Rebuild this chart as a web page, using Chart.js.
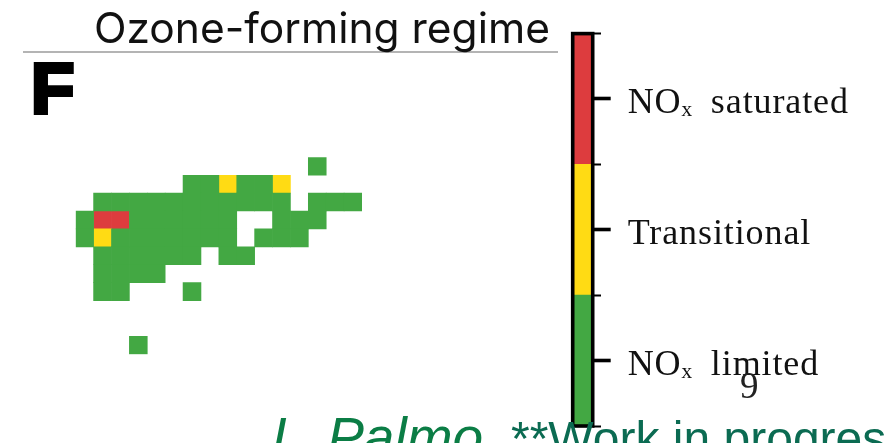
<!DOCTYPE html>
<html>
<head>
<meta charset="utf-8">
<script src="https://cdn.jsdelivr.net/npm/chart.js@4"></script>
<style>
  html, body { margin: 0; background: #fff; }
  body { position: relative; width: 884px; height: 443px; overflow: hidden; font-family: "Liberation Sans", sans-serif; }
  canvas, .txt, #rule { position: absolute; }
  #map { left: 70px; top: 150px; }
  #bar { left: 550px; top: 20px; }
  #rule { left: 23px; top: 51px; width: 535px; height: 2px; background: #b4b4b4; }
  .txt { white-space: nowrap; }
  #title { left: 94px; top: 2px; font: 42.5px Inter, sans-serif; color: #111; }
  #panel { left: 31px; top: 48px; font: bold 71px "Liberation Sans", sans-serif; color: #000; -webkit-text-stroke: 4px #000; }
  #page { left: 740px; top: 364px; font: 37px "Liberation Serif", serif; color: #222; }
  #author { left: 272px; top: 410px; font: italic 55px/1 "Liberation Sans", sans-serif; word-spacing: -6px; color: #0b7d45; }
  #status { left: 511px; top: 415px; font: 48px/1 "Liberation Sans", sans-serif; color: #0b6b52; }
</style>
</head>
<body>
<canvas id="map" width="300" height="210"></canvas>
<canvas id="bar" width="334" height="423"></canvas>
<div id="rule"></div>
<div class="txt" id="title">Ozone-forming regime</div>
<div class="txt" id="panel">F</div>
<div class="txt" id="page">9</div>
<div class="txt" id="author">L. Palmo,</div>
<div class="txt" id="status">**Work in progress</div>
<script>
// regime names, bottom to top on the colorbar
const regimes = ['NOₓ \u2009limited', 'Transitional', 'NOₓ \u2009saturated'];
const regimeColors = ['#43a843', '#ffdb14', '#dd3c3e'];

const columns = ['0', '1', '2', '3', '4', '5', '6', '7', '8', '9', '10', '11', '12', '13', '14', '15'];

// one row per grid row, top to bottom. 0 = no data, 1/2/3 = index into regimes + 1
const regimeRows = [
  [0, 0, 0, 0, 0, 0, 0, 0, 0, 0, 0, 0, 0, 1, 0, 0],
  [0, 0, 0, 0, 0, 0, 1, 1, 2, 1, 1, 2, 0, 0, 0, 0],
  [0, 1, 1, 1, 1, 1, 1, 1, 1, 1, 1, 1, 0, 1, 1, 1],
  [1, 3, 3, 1, 1, 1, 1, 1, 1, 0, 0, 1, 1, 1, 0, 0],
  [1, 2, 1, 1, 1, 1, 1, 1, 1, 0, 1, 1, 1, 0, 0, 0],
  [0, 1, 1, 1, 1, 1, 1, 0, 1, 1, 0, 0, 0, 0, 0, 0],
  [0, 1, 1, 1, 1, 0, 0, 0, 0, 0, 0, 0, 0, 0, 0, 0],
  [0, 1, 1, 0, 0, 0, 1, 0, 0, 0, 0, 0, 0, 0, 0, 0],
  [0, 0, 0, 0, 0, 0, 0, 0, 0, 0, 0, 0, 0, 0, 0, 0],
  [0, 0, 0, 0, 0, 0, 0, 0, 0, 0, 0, 0, 0, 0, 0, 0],
  [0, 0, 0, 1, 0, 0, 0, 0, 0, 0, 0, 0, 0, 0, 0, 0]
];

// each regime becomes a dataset of floating bars, one bar per cell
function cellsFor(code) {
  const cells = [];
  regimeRows.forEach((row, r) => {
    row.forEach((v, c) => {
      if (v === code) cells.push({ x: columns[c], y: [r, r + 1] });
    });
  });
  return cells;
}

new Chart(document.getElementById('map'), {
  type: 'bar',
  data: {
    labels: columns,
    datasets: regimes.map((name, i) => ({
      label: name,
      data: cellsFor(i + 1),
      backgroundColor: regimeColors[i],
      grouped: false,
      barPercentage: 1,
      categoryPercentage: 1
    }))
  },
  options: {
    responsive: false,
    animation: false,
    layout: { padding: { left: 5.7, top: 7.3, right: 8, bottom: 5.7 } },
    plugins: { legend: { display: false }, tooltip: { enabled: false } },
    scales: {
      x: { display: false },
      y: { display: false, reverse: true, min: 0, max: regimeRows.length }
    }
  }
});

// black box round the colorbar
const frame = {
  id: 'frame',
  afterDatasetsDraw(chart) {
    const { ctx, chartArea: a } = chart;
    ctx.save();
    ctx.strokeStyle = '#000';
    ctx.lineWidth = 3.6;
    ctx.strokeRect(a.left, a.top, a.right - a.left, a.bottom - a.top);
    ctx.restore();
  },
  beforeDraw(chart) {
    chart.ctx.letterSpacing = '0.9px';
  }
};

new Chart(document.getElementById('bar'), {
  type: 'bar',
  data: {
    labels: [''],
    datasets: regimes.map((name, i) => ({
      label: name,
      data: [1],
      backgroundColor: regimeColors[i],
      barPercentage: 1,
      categoryPercentage: 1
    }))
  },
  options: {
    responsive: false,
    animation: false,
    layout: { padding: { left: 22.7, top: 13.6, right: 0, bottom: 17 } },
    plugins: { legend: { display: false }, tooltip: { enabled: false } },
    scales: {
      x: { stacked: true, display: false },
      y: {
        stacked: true,
        position: 'right',
        min: 0,
        max: regimes.length,
        afterFit(s) { s.width = 291.3; s.paddingTop = 0; s.paddingBottom = 0; },
        afterBuildTicks(s) {
          s.ticks = [0, 0.5, 1, 1.5, 2, 2.5, 3].map(v => ({ value: v }));
        },
        border: { display: false },
        grid: {
          drawOnChartArea: false,
          tickLength: 18,
          tickColor: '#000',
          tickWidth: c => (c.tick.value % 1 ? 3.6 : 2),
          tickBorderDash: c => (c.tick.value % 1 ? [] : [8, 30])
        },
        ticks: {
          autoSkip: false,
          maxRotation: 0,
          padding: 17,
          labelOffset: 4.5,
          color: '#111',
          font: { family: '"Liberation Serif", serif', size: 36 },
          callback: v => (v % 1 ? regimes[Math.floor(v)] : '')
        }
      }
    }
  },
  plugins: [frame]
});
</script>
</body>
</html>
